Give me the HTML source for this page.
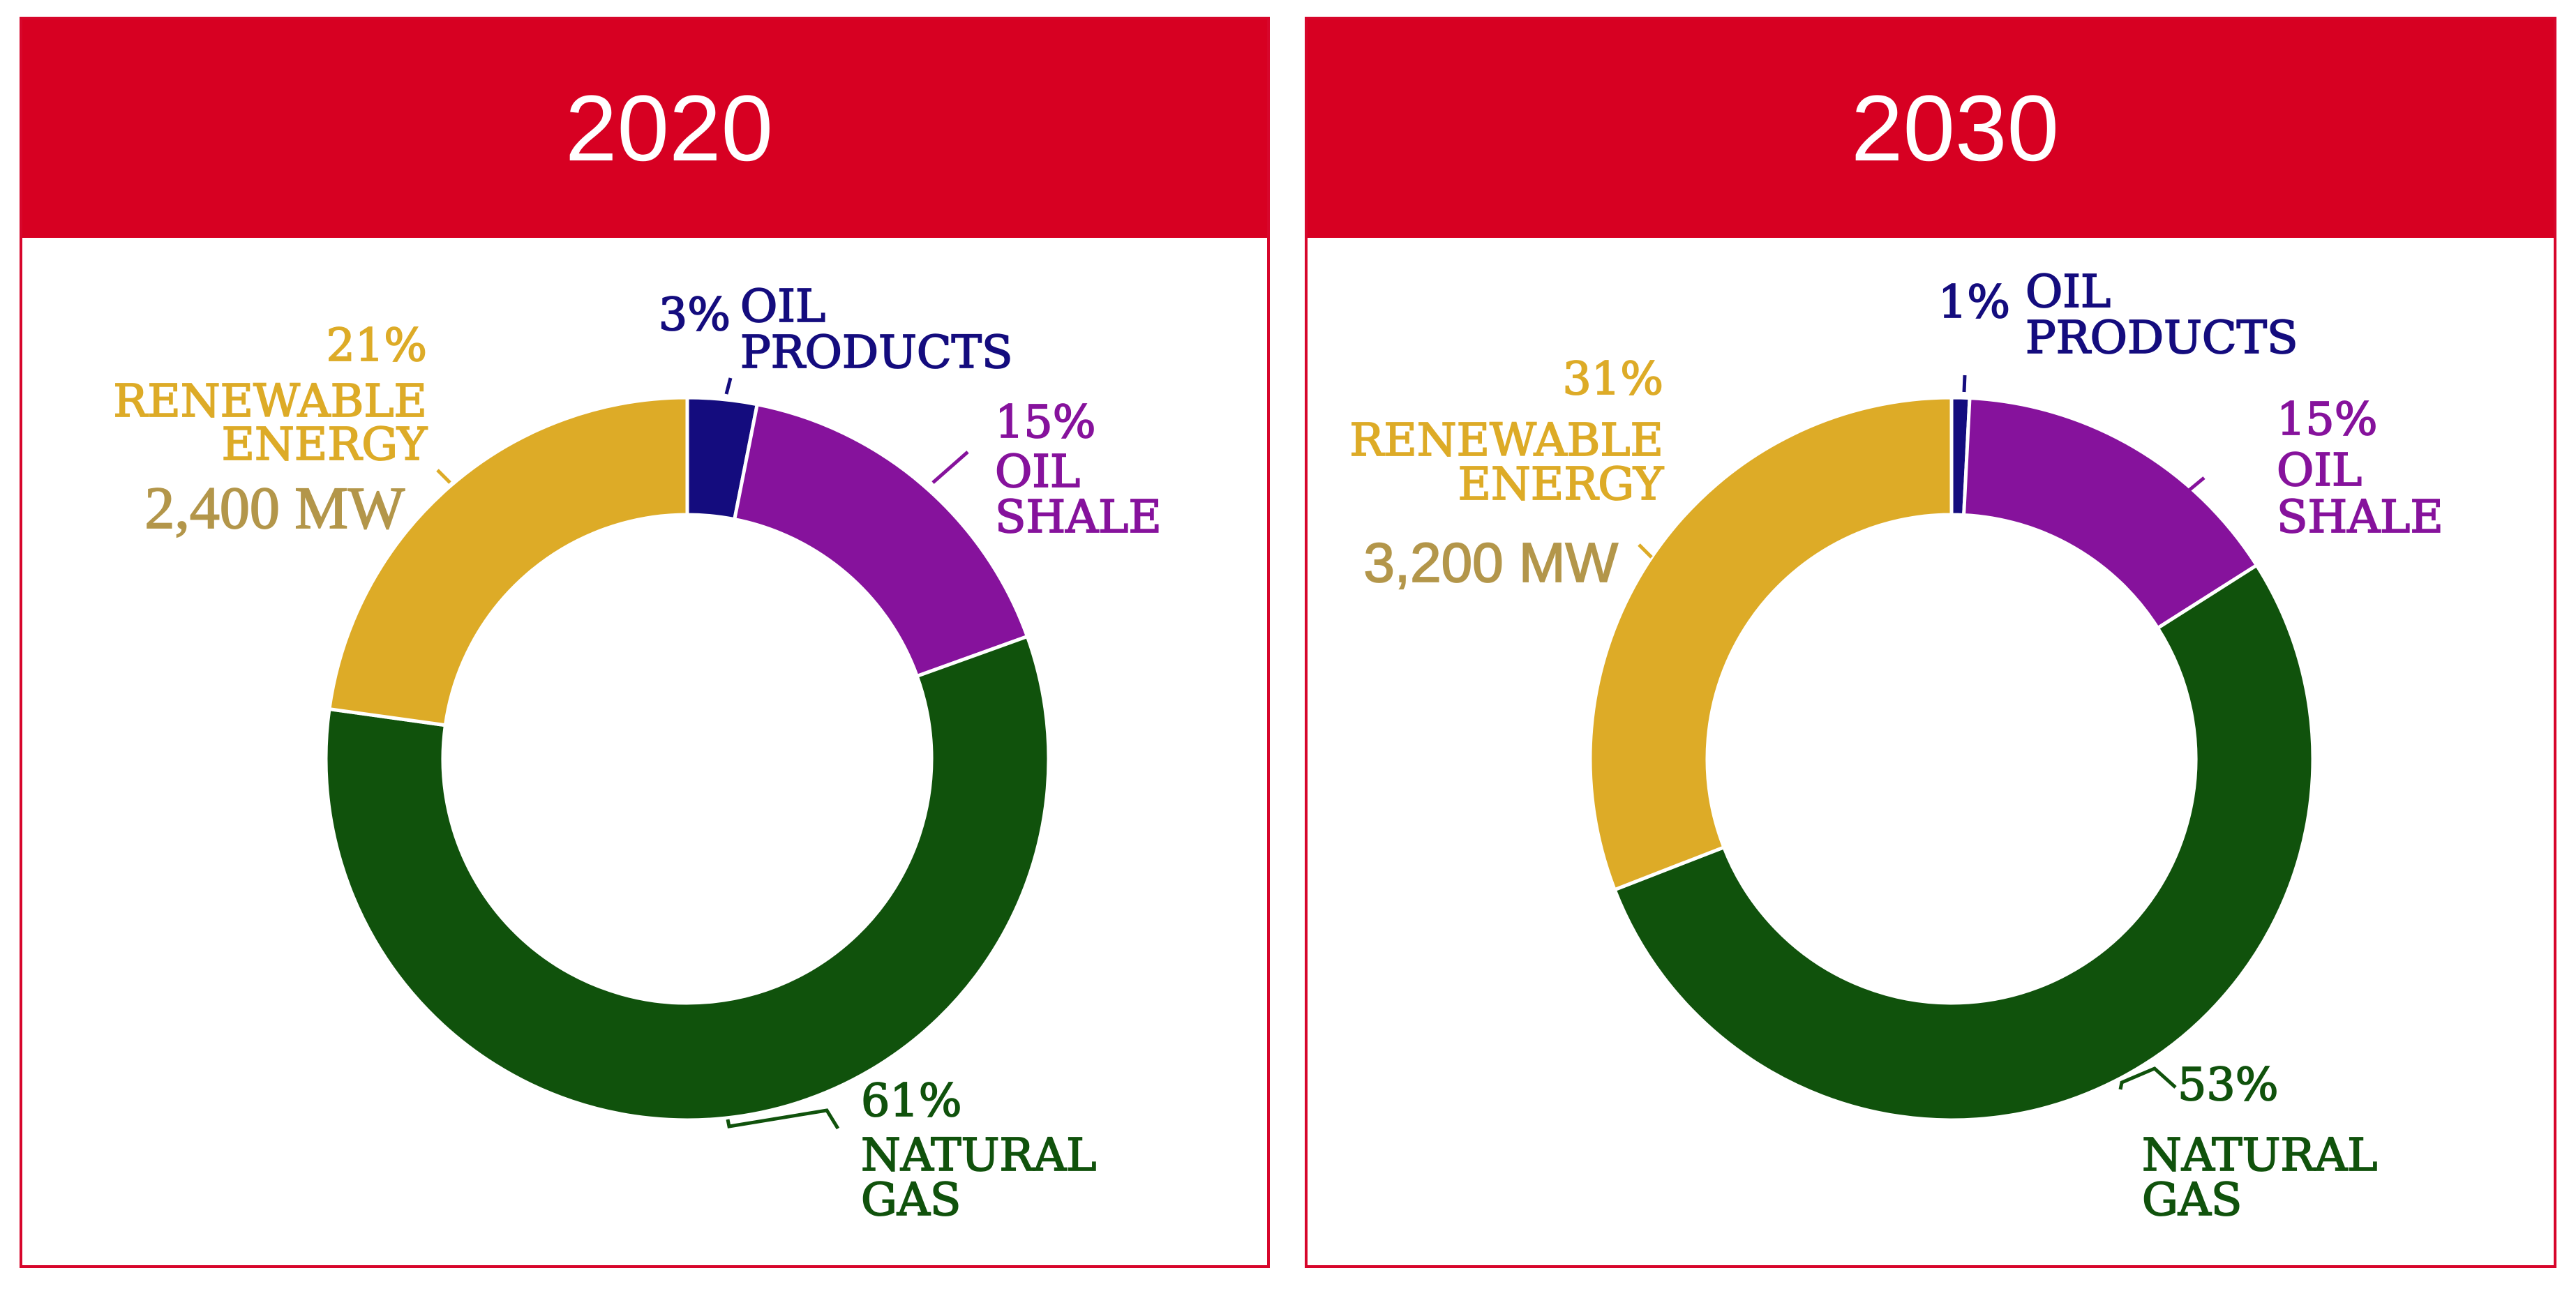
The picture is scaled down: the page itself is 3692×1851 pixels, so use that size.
<!DOCTYPE html>
<html><head><meta charset="utf-8"><style>
html,body{margin:0;padding:0;background:#fff;}
body{width:3692px;height:1851px;position:relative;overflow:hidden;font-family:"DejaVu Serif","Liberation Serif",serif;}
.panel{position:absolute;top:24px;height:1794px;box-sizing:border-box;border:4px solid #d7062b;background:#fff;}
.hdr{position:absolute;left:0;top:0;right:0;height:313px;background:#d70022;color:#fff;font-family:"Liberation Sans",sans-serif;font-size:134px;text-align:center;line-height:313px;}
svg{position:absolute;left:0;top:0;}
</style></head><body>
<div class="panel" style="left:28px;width:1792px;"><div class="hdr" style="padding-left:70px;box-sizing:border-box;">2020</div></div>
<div class="panel" style="left:1870px;width:1794px;"><div class="hdr" style="padding-left:70px;box-sizing:border-box;">2030</div></div>
<svg id="chart" width="3692" height="1851"></svg>
<script>
const categories=["Oil products","Oil shale","Natural gas","Renewable energy"];
const colors=["#140c7e","#86129c","#10520c","#ddab27"];
const values2020=[3.1,16.4,57.7,22.8];
const values2030=[0.8,15.2,53.1,30.9];
const labels2020=["3%","15%","61%","21%"];
const labels2030=["1%","15%","53%","31%"];
const mw2020="2,400 MW";
const mw2030="3,200 MW";
const NS="http://www.w3.org/2000/svg";
const svg=document.getElementById('chart');
const R=518,RI=350;
function pt(cx,cy,r,a){return [cx+r*Math.sin(a),cy-r*Math.cos(a)];}
function donut(cx,cy,vals,tag){
  const tot=vals.reduce((a,b)=>a+b,0);let acc=0;
  vals.forEach((v,i)=>{
    const a0=acc/tot*2*Math.PI;acc+=v;const a1=acc/tot*2*Math.PI;
    const lg=(a1-a0)>Math.PI?1:0;
    const p0=pt(cx,cy,R,a0),p1=pt(cx,cy,R,a1),q1=pt(cx,cy,RI,a1),q0=pt(cx,cy,RI,a0);
    const p=document.createElementNS(NS,'path');
    p.setAttribute('d',`M${p0[0]},${p0[1]}A${R},${R} 0 ${lg} 1 ${p1[0]},${p1[1]}L${q1[0]},${q1[1]}A${RI},${RI} 0 ${lg} 0 ${q0[0]},${q0[1]}Z`);
    p.setAttribute('fill',colors[i]);p.setAttribute('stroke','#fff');p.setAttribute('stroke-width','5');
    
    
    svg.appendChild(p);
  });
}
function txt(x,y,s,col,anchor,name,size,fam){
  const t=document.createElementNS(NS,'text');
  t.setAttribute('x',x);t.setAttribute('y',y);t.setAttribute('fill',col);
  t.setAttribute('stroke',col);t.setAttribute('stroke-width','1.8');
  t.setAttribute('text-anchor',anchor||'start');t.setAttribute('font-size',size||65);
  if(fam)t.setAttribute('font-family',fam);
  t.textContent=s;
  
  
  svg.appendChild(t);
}
function line(pts,col,name){
  const l=document.createElementNS(NS,'polyline');
  l.setAttribute('points',pts);l.setAttribute('stroke',col);l.setAttribute('stroke-width','5');l.setAttribute('fill','none');
  
  
  svg.appendChild(l);
}
donut(985,1088,values2020,'2020');
donut(2797,1088,values2030,'2030');
txt(1047,473,labels2020[0],colors[0],'end','label-2020-oil-products-pct');
txt(1061,461,"OIL",colors[0],'start','label-2020-oil-products');
txt(1061,527,"PRODUCTS",colors[0],'start','label-2020-oil-products-2');
line("1041,565 1047,542",colors[0],'leader-2020-oil-products');
txt(612,517,labels2020[3],colors[3],'end','label-2020-renewable-pct');
txt(612,597,"RENEWABLE",colors[3],'end','label-2020-renewable');
txt(612,659,"ENERGY",colors[3],'end','label-2020-renewable-2');
txt(580,757,mw2020,"#b3964a",'end','label-2020-mw',86,'"Liberation Serif",serif');
line("627,674 645,692",colors[3],'leader-2020-renewable');
txt(1426,627,labels2020[1],colors[1],'start','label-2020-shale-pct');
txt(1426,698,"OIL",colors[1],'start','label-2020-shale');
txt(1426,763,"SHALE",colors[1],'start','label-2020-shale-2');
line("1337,692 1387,648",colors[1],'leader-2020-shale');
txt(1234,1600,labels2020[2],colors[2],'start','label-2020-gas-pct');
txt(1234,1678,"NATURAL",colors[2],'start','label-2020-gas');
txt(1234,1742,"GAS",colors[2],'start','label-2020-gas-2');
line("1043,1605 1045,1615 1185,1592 1201,1618",colors[2],'leader-2020-gas');
txt(2881,455,labels2030[0],colors[0],'end','label-2030-oil-products-pct');
txt(2903,440,"OIL",colors[0],'start','label-2030-oil-products');
txt(2903,506,"PRODUCTS",colors[0],'start','label-2030-oil-products-2');
line("2816,538 2815,562",colors[0],'leader-2030-oil-products');
txt(2384,565,labels2030[3],colors[3],'end','label-2030-renewable-pct');
txt(2384,653,"RENEWABLE",colors[3],'end','label-2030-renewable');
txt(2384,716,"ENERGY",colors[3],'end','label-2030-renewable-2');
txt(2319,834,mw2030,"#b3964a",'end','label-2030-mw',80,'"Liberation Sans",sans-serif');
line("2349,781 2367,799",colors[3],'leader-2030-renewable');
txt(3263,623,labels2030[1],colors[1],'start','label-2030-shale-pct');
txt(3263,696,"OIL",colors[1],'start','label-2030-shale');
txt(3263,763,"SHALE",colors[1],'start','label-2030-shale-2');
line("3124,714 3159,685",colors[1],'leader-2030-shale');
txt(3121,1577,labels2030[2],colors[2],'start','label-2030-gas-pct');
txt(3070,1678,"NATURAL",colors[2],'start','label-2030-gas');
txt(3070,1742,"GAS",colors[2],'start','label-2030-gas-2');
line("3039,1562 3041,1552 3088,1532 3118,1559",colors[2],'leader-2030-gas');
</script>
</body></html>
